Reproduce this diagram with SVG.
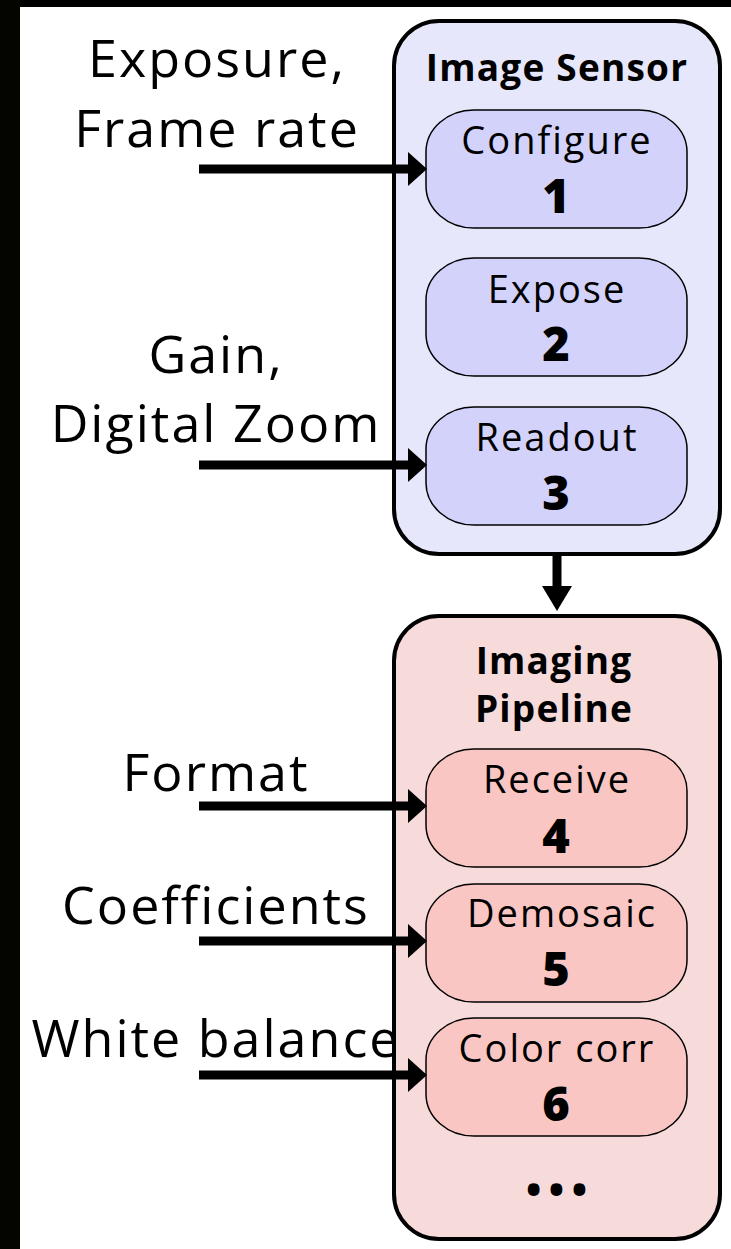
<svg xmlns="http://www.w3.org/2000/svg" width="731" height="1249" viewBox="0 0 731 1249">
  <defs>
    <marker id="head" markerUnits="userSpaceOnUse" markerWidth="20" markerHeight="34" refX="0" refY="17" orient="auto" viewBox="0 0 20 34">
      <path d="M0,0 L19,17 L0,34 Z" fill="#000"/>
    </marker>
    <style>
      .label { font-family: "Open Sans", "Liberation Sans", sans-serif; font-size: 52px; letter-spacing: 2px; fill: #000; text-anchor: middle; }
      .title { font-family: "Open Sans", "Liberation Sans", sans-serif; font-size: 37px; letter-spacing: 1.2px; font-weight: bold; fill: #000; text-anchor: middle; }
      .step { font-family: "Open Sans", "Liberation Sans", sans-serif; font-size: 38px; letter-spacing: 2px; fill: #000; text-anchor: middle; }
      .num { font-family: "Open Sans", "Liberation Sans", sans-serif; font-size: 47px; font-weight: 800; fill: #000; text-anchor: middle; }
      .dots { font-family: "Open Sans", "Liberation Sans", sans-serif; font-size: 42px; letter-spacing: 7px; font-weight: bold; fill: #000; text-anchor: middle; }
      .outer { stroke: #000; stroke-width: 4; }
      .inner { stroke: #000; stroke-width: 1.5; }
      .sensor { fill: #e7e7fb; }
      .sensor-step { fill: #d2d2fb; }
      .pipe { fill: #f7dbda; }
      .pipe-step { fill: #fac6c3; }
      .wire { stroke: #000; stroke-width: 9; fill: none; marker-end: url(#head); }
    </style>
  </defs>

  <!-- page background with dark frame on the top and left edges -->
  <rect x="0" y="0" width="731" height="1249" fill="#fff"/>
  <rect x="0" y="0" width="731" height="7" fill="#000"/>
  <rect x="0" y="0" width="20" height="1249" fill="#050500"/>

  <!-- image sensor stage -->
  <g id="image-sensor">
    <rect class="outer sensor" x="394" y="21" width="326" height="533" rx="45" ry="45"/>
    <text class="title" x="557" y="81">Image Sensor</text>
  </g>
  <g id="configure">
    <rect class="inner sensor-step" x="426" y="110" width="261" height="118" rx="48" ry="42"/>
    <text class="step" x="557" y="154">Configure</text>
    <text class="num" x="556" y="213">1</text>
  </g>
  <g id="expose">
    <rect class="inner sensor-step" x="426" y="258" width="261" height="118" rx="48" ry="42"/>
    <text class="step" x="557" y="303">Expose</text>
    <text class="num" x="556" y="361">2</text>
  </g>
  <g id="readout">
    <rect class="inner sensor-step" x="426" y="407" width="261" height="118" rx="48" ry="42"/>
    <text class="step" x="557" y="451">Readout</text>
    <text class="num" x="556" y="510">3</text>
  </g>

  <!-- imaging pipeline stage -->
  <g id="imaging-pipeline">
    <rect class="outer pipe" x="394" y="616" width="326" height="623" rx="45" ry="45"/>
    <text class="title" x="554" y="674">Imaging</text>
    <text class="title" x="554" y="722">Pipeline</text>
    <text class="dots" x="560" y="1205">•••</text>
  </g>
  <g id="receive">
    <rect class="inner pipe-step" x="426" y="749" width="261" height="118" rx="48" ry="42"/>
    <text class="step" x="557" y="793">Receive</text>
    <text class="num" x="556" y="853">4</text>
  </g>
  <g id="demosaic">
    <rect class="inner pipe-step" x="426" y="884" width="261" height="118" rx="48" ry="42"/>
    <text class="step" x="562" y="927">Demosaic</text>
    <text class="num" x="556" y="986">5</text>
  </g>
  <g id="color-corr">
    <rect class="inner pipe-step" x="426" y="1018" width="261" height="118" rx="48" ry="42"/>
    <text class="step" x="557" y="1062">Color corr</text>
    <text class="num" x="556" y="1121">6</text>
  </g>

  <!-- control inputs -->
  <g id="input-labels">
    <text class="label" x="217" y="77">Exposure,</text>
    <text class="label" x="217" y="147">Frame rate</text>
    <text class="label" x="216" y="373">Gain,</text>
    <text class="label" x="216" y="442">Digital Zoom</text>
    <text class="label" x="216" y="791">Format</text>
    <text class="label" x="216" y="924">Coefficients</text>
    <text class="label" x="216" y="1057">White balance</text>
  </g>

  <!-- connectors -->
  <g id="connectors">
    <line class="wire" x1="199" y1="169" x2="408" y2="169"/>
    <line class="wire" x1="199" y1="465" x2="408" y2="465"/>
    <line class="wire" x1="199" y1="806" x2="408" y2="806"/>
    <line class="wire" x1="199" y1="941" x2="408" y2="941"/>
    <line class="wire" x1="199" y1="1075" x2="408" y2="1075"/>
    <line x1="557" y1="555" x2="557" y2="587" stroke="#000" stroke-width="9"/>
    <path d="M542,586 L572,586 L557,611 Z" fill="#000"/>
  </g>
</svg>
